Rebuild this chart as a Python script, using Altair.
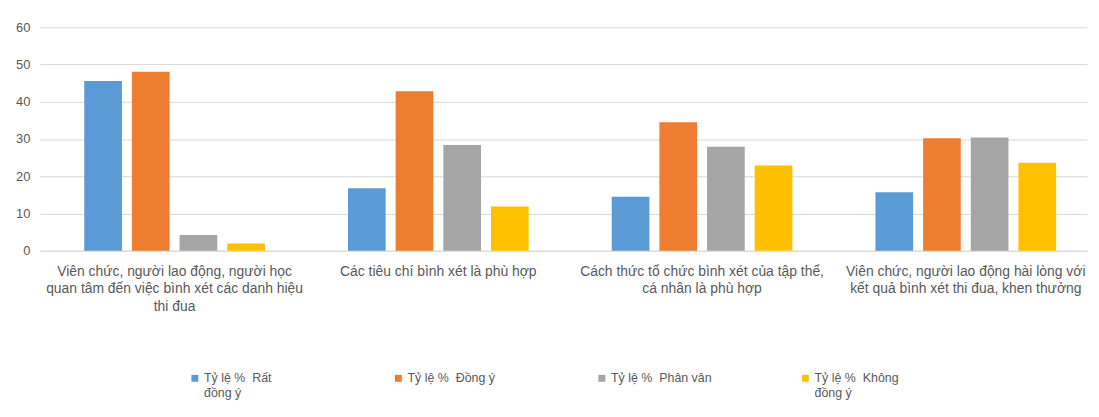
import altair as alt
import pandas as pd

categories = [
    "Viên chức, người lao động, người học\nquan tâm đến việc bình xét các danh hiệu\nthi đua",
    "Các tiêu chí bình xét là phù hợp",
    "Cách thức tổ chức bình xét của tập thể,\ncá nhân là phù hợp",
    "Viên chức, người lao động hài lòng với\nkết quả bình xét thi đua, khen thưởng",
]
series = ["Tỷ lệ %\u00a0 Rất\nđồng ý", "Tỷ lệ %\u00a0 Đồng ý", "Tỷ lệ %\u00a0 Phân vân",
          "Tỷ lệ %\u00a0 Không\nđồng ý"]
rat_dong_y = [45.6, 16.8, 14.5, 15.7]
dong_y = [48.1, 42.8, 34.5, 30.2]
phan_van = [4.2, 28.4, 27.9, 30.4]
khong_dong_y = [1.9, 11.9, 22.9, 23.6]
colors = ["#5b9bd5", "#ed7d31", "#a5a5a5", "#ffc000"]

rows = []
for s, vals in zip(series, [rat_dong_y, dong_y, phan_van, khong_dong_y]):
    for c, v in zip(categories, vals):
        rows.append({"cat": c, "series": s, "value": v})
df = pd.DataFrame(rows)

FONT = "Liberation Sans"
TXT = "#595959"

legend_label = ("indexof(datum.label, '\\n') >= 0 ? split(datum.label, '\\n') "
                ": [datum.label, ' ']")

chart = alt.Chart(df).mark_bar().encode(
    x=alt.X("cat:N", sort=categories, title=None,
            scale=alt.Scale(paddingInner=0.315, paddingOuter=0.143, align=0.59),
            axis=alt.Axis(labelAngle=0, labelExpr="split(datum.label, '\\n')",
                          labelFontSize=14, labelColor=TXT, labelFont=FONT,
                          labelLineHeight=17.5, labelLimit=400, labelPadding=14,
                          ticks=False, domainColor="#d9d9d9", grid=False)),
    xOffset=alt.XOffset("series:N", sort=series,
                        scale=alt.Scale(paddingInner=0.21, paddingOuter=0)),
    y=alt.Y("value:Q", title=None,
            scale=alt.Scale(domain=[0, 60], nice=False),
            axis=alt.Axis(values=[0, 10, 20, 30, 40, 50, 60], domain=False, ticks=False,
                          labelFontSize=13, labelColor=TXT, labelFont=FONT,
                          labelPadding=10, gridColor="#d9d9d9")),
    color=alt.Color("series:N", sort=series,
                    scale=alt.Scale(domain=series, range=colors),
                    legend=alt.Legend(title=None, orient="none", legendX=150, legendY=341,
                                      direction="horizontal", columns=4, gridAlign="all",
                                      columnPadding=88, symbolType="M-1,0.7H1V2.7H-1Z",
                                      symbolSize=49, symbolStrokeWidth=0,
                                      labelFontSize=12.5, labelColor=TXT,
                                      labelFont=FONT, labelExpr=legend_label,
                                      labelBaseline="top", labelOffset=3, labelLimit=200)),
).properties(
    width=1055, height=225,
    autosize=alt.AutoSizeParams(type="none"),
    padding={"left": 32, "top": 18, "right": 4, "bottom": 158},
).configure_view(stroke=None)

chart.save("out.html", embed_options={"renderer": "svg", "actions": False})
